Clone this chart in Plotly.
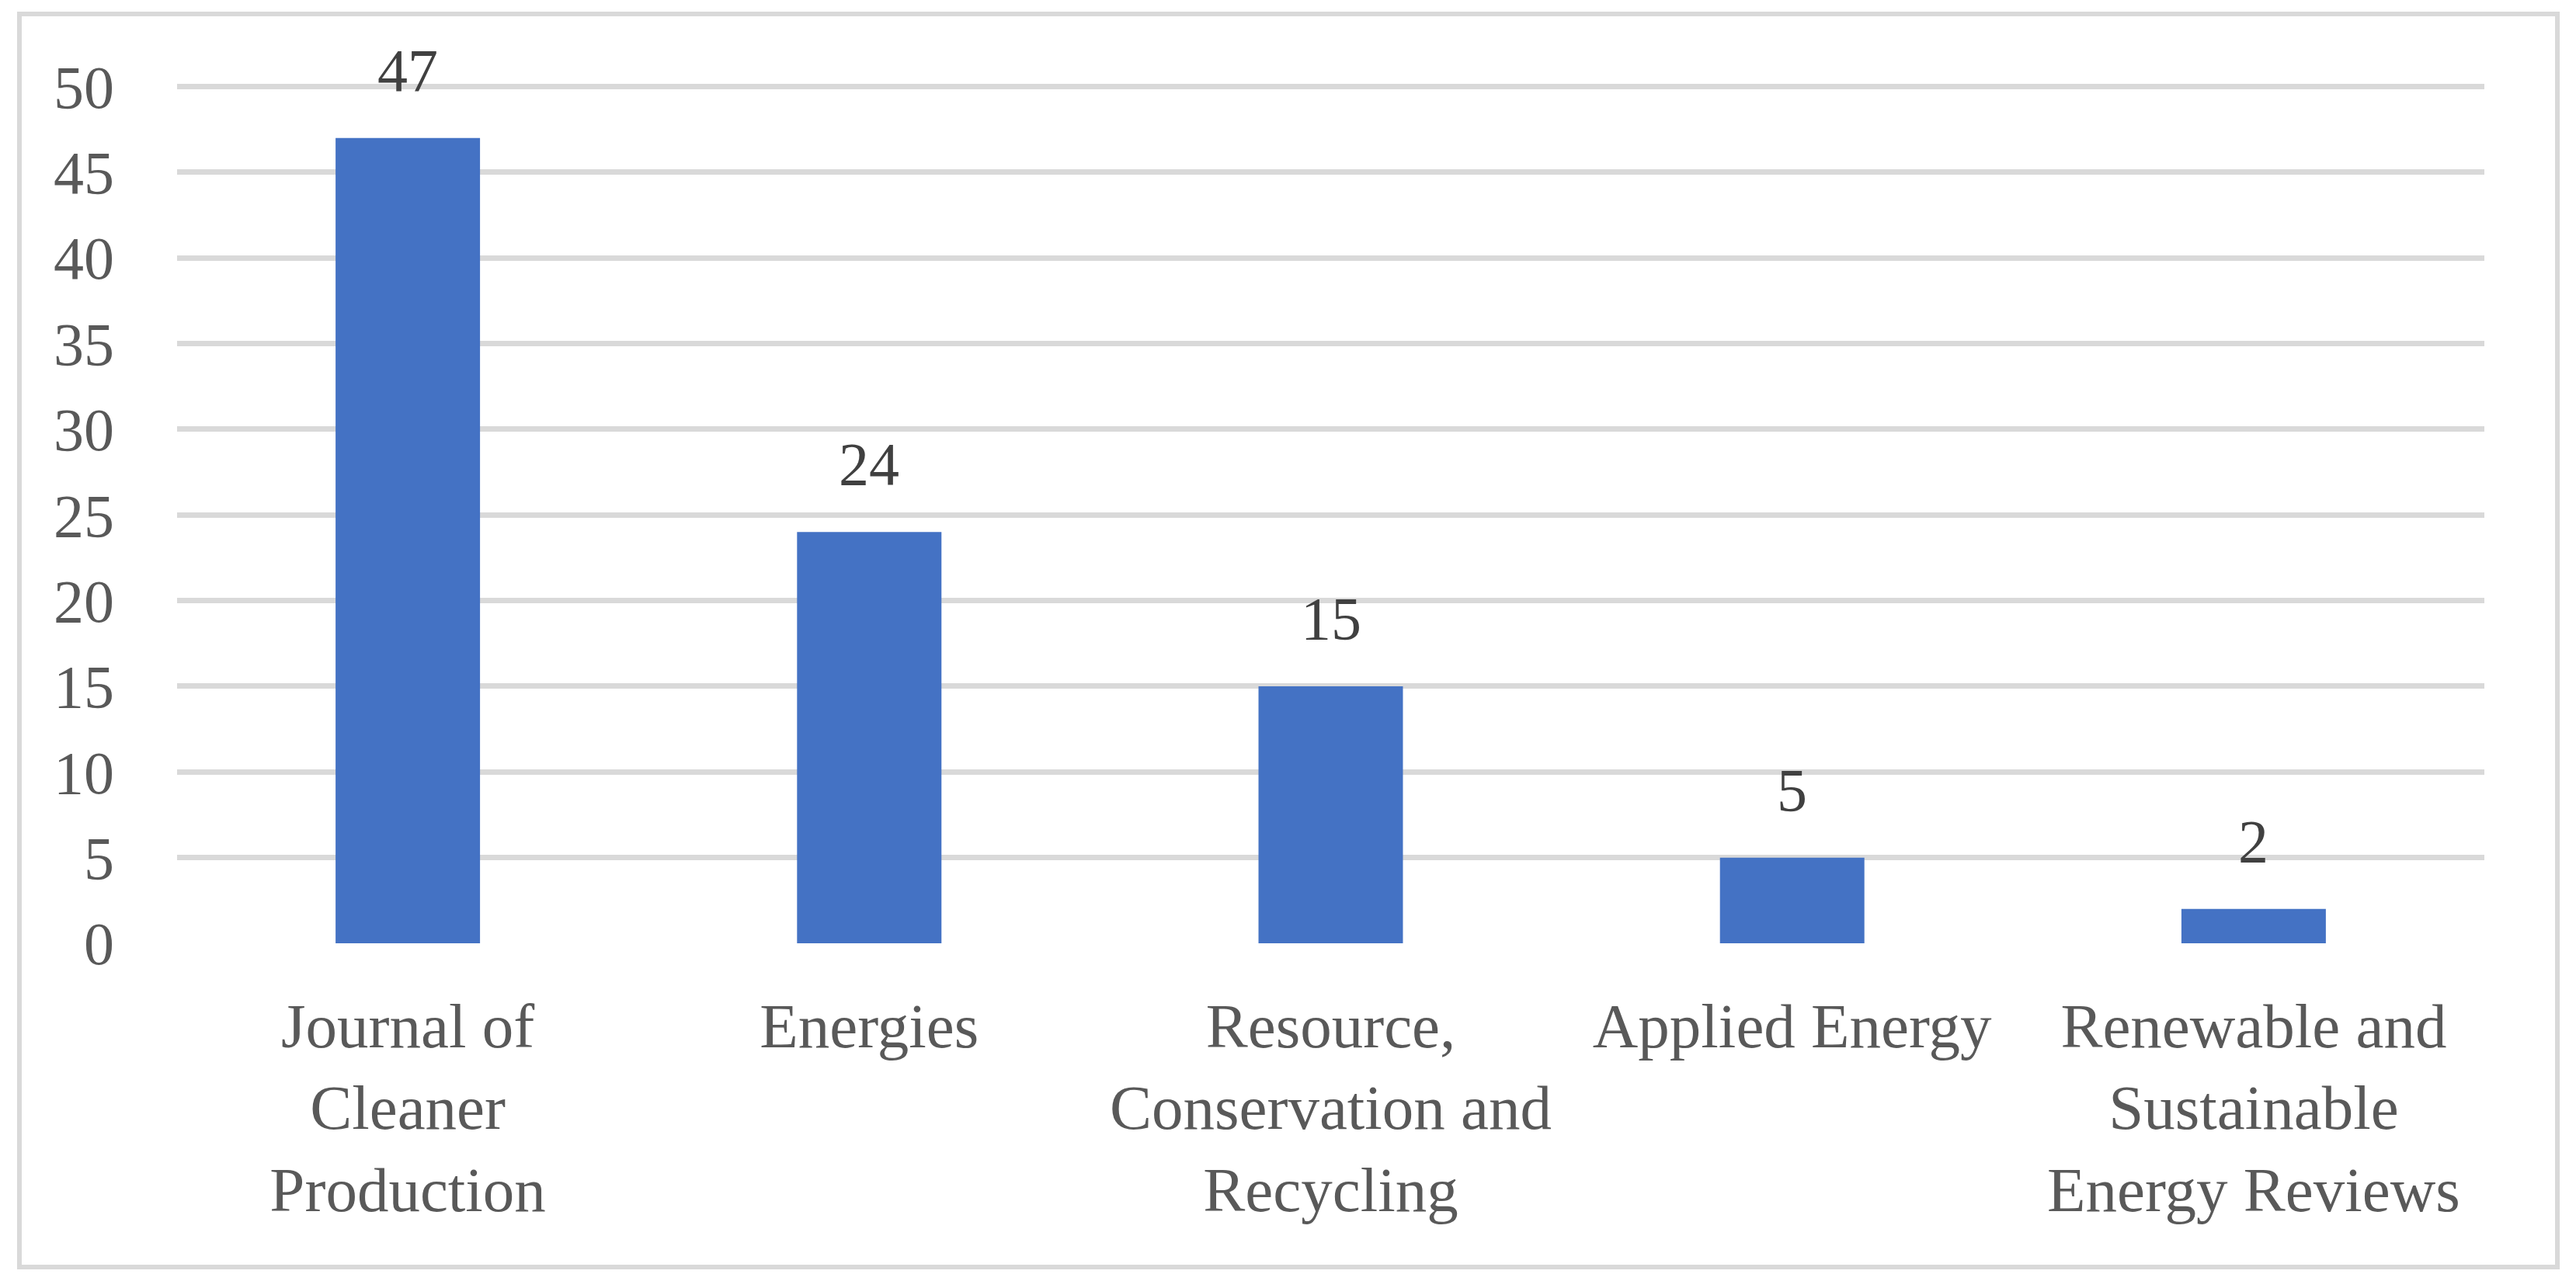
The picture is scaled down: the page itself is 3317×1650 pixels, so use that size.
import plotly.graph_objects as go

# Publications per journal
journals = [
    "Journal of<br>Cleaner<br>Production",
    "Energies",
    "Resource,<br>Conservation and<br>Recycling",
    "Applied Energy",
    "Renewable and<br>Sustainable<br>Energy Reviews",
]
counts = [47, 24, 15, 5, 2]
y_ticks = [0, 5, 10, 15, 20, 25, 30, 35, 40, 45, 50]

FONT = "Liberation Serif, Times New Roman, serif"
W, H = 3317, 1650
OFF = 8  # page body margin
# a little headroom above 50 so the top gridline is drawn
Y_TOP = 50.2
L, R, T, B = 228 - OFF, 118 + OFF, 99, 443

fig = go.Figure()

fig.add_trace(go.Bar(
    x=journals,
    y=counts,
    marker=dict(color="#4472C4", line=dict(width=0)),
    width=0.313,
    hoverinfo="x+y",
))

# value labels above the bars
for j, c in zip(journals, counts):
    fig.add_annotation(
        x=j, y=c, text=str(c),
        showarrow=False, yanchor="bottom", yshift=42,
        font=dict(family=FONT, size=78, color="#404040"),
    )

# outer chart border (page pixel positions converted to paper units)
pw, ph = W - L - R, H - T - B
fig.add_shape(
    type="rect", xref="paper", yref="paper",
    x0=(25 - OFF - L) / pw, x1=(3293 - OFF - L) / pw,
    y0=(H - B - (1632 - OFF)) / ph, y1=(H - B - (18 - OFF)) / ph,
    line=dict(color="#D9D9D9", width=6),
    fillcolor="rgba(0,0,0,0)",
    layer="below",
)

fig.update_layout(
    width=W, height=H,
    margin=dict(l=L, r=R, t=T, b=B, pad=0),
    plot_bgcolor="white",
    paper_bgcolor="white",
    showlegend=False,
    font=dict(family=FONT, size=78, color="#595959"),
    xaxis=dict(
        showgrid=False, zeroline=False, showline=False,
        ticks="", ticklabelstandoff=52,
        tickfont=dict(family=FONT, size=81, color="#595959"),
    ),
    yaxis=dict(
        range=[0, Y_TOP], tickvals=y_ticks,
        showgrid=True, gridcolor="#D9D9D9", gridwidth=7,
        zeroline=False, showline=False,
        ticks="", ticklabelstandoff=80,
        tickfont=dict(family=FONT, size=78, color="#595959"),
    ),
)

fig.write_html("out.html")
